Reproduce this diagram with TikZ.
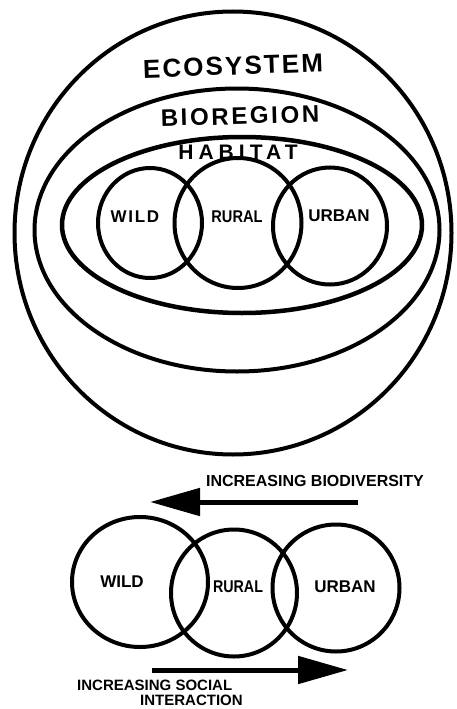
\documentclass[tikz,border=0pt]{standalone}
\usepackage{fontspec}
\usepackage{graphicx}
\setmainfont{Liberation Sans}
\usetikzlibrary{shapes.geometric,arrows.meta}
\tikzset{
  ring/.style={draw, ellipse, line width=4pt, inner sep=0pt, outer sep=0pt},
  zone/.style={inner sep=0pt, font=\bfseries\fontsize{#1}{#1}\selectfont},
  part/.style={inner sep=0pt, font=\bfseries\fontsize{17}{17}\selectfont},
  bigarrow/.style={line width=5pt, -{Triangle[length=50pt,width=27pt]}},
  note/.style={inner sep=0pt, font=\bfseries\fontsize{15}{15}\selectfont, align=left}
}
\begin{document}
\begin{tikzpicture}[x=1pt,y=-1pt]
\useasboundingbox[fill=white] (0,0) rectangle (456,709);
% nested zones
\node[ring, minimum width=437pt, minimum height=443pt] (eco) at (233,233) {};
\node[ring, minimum width=405pt, minimum height=283pt] (bio) at (237,230) {};
\node[ring, line width=4.5pt, minimum width=360pt, minimum height=176pt] (hab) at (242,225) {};
\node[ring, minimum width=104pt, minimum height=110pt] (w1) at (150,223) {};
\node[ring, minimum width=127pt, minimum height=130pt] (r1) at (238,223) {};
\node[ring, minimum width=114pt, minimum height=117pt] (u1) at (330,226) {};
% zone labels
\node[zone=26, rotate=2] (ecol) at (233,66) {\addfontfeatures{LetterSpace=8}ECOSYSTEM};
\node[zone=24, rotate=1.5] (biol) at (240,116) {\addfontfeatures{LetterSpace=11}BIOREGION};
\node[zone=21] (habl) at (238,152) {\addfontfeatures{LetterSpace=24}HABITAT};
\node[part] (w1l) at (135,217) {\addfontfeatures{LetterSpace=10}WILD};
\node[part] (r1l) at (237,217) {\scalebox{0.86}[1]{RURAL}};
\node[part] (u1l) at (339,216) {URBAN};
% lower diagram
\node[ring, minimum width=136pt, minimum height=130pt] (w2) at (140,582) {};
\node[ring, minimum width=126pt, minimum height=127pt] (r2) at (234,593) {};
\node[ring, minimum width=127pt, minimum height=127pt] (u2) at (336,588) {};
\node[part] (w2l) at (122,582) {WILD};
\node[part] (r2l) at (238,587) {\scalebox{0.84}[1]{RURAL}};
\node[part] (u2l) at (345,587) {URBAN};
% arrows
\node[note, font=\bfseries\fontsize{16}{16}\selectfont] (bdl) at (315,481) {INCREASING BIODIVERSITY};
\coordinate (bda) at (358,502);
\coordinate (bdb) at (150,502);
\draw[bigarrow] (bda) -- (bdb);
\coordinate (sia) at (152,670);
\coordinate (sib) at (348,670);
\draw[bigarrow] (sia) -- (sib);
\node[note, anchor=west] (sil) at (77,693) {INCREASING SOCIAL\\\hspace*{63pt}INTERACTION};
\end{tikzpicture}
\end{document}
